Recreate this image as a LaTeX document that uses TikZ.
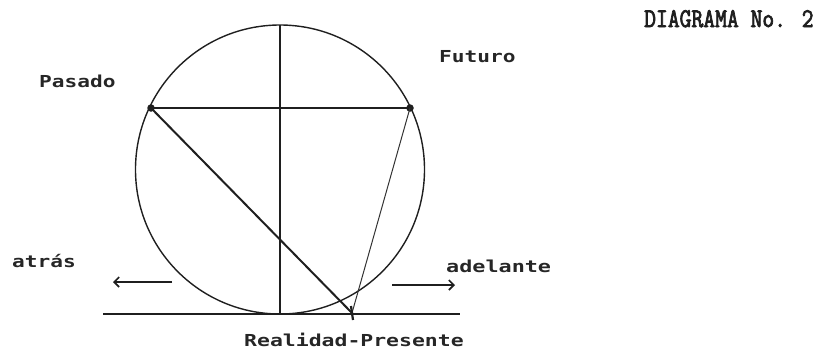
\documentclass[tikz,border=0pt]{standalone}
\usepackage{fontspec}
\newfontfamily\dotfont{DejaVu Sans Mono}
\newfontfamily\typefont[BoldFont={Latin Modern Mono}, BoldFeatures={FakeBold=3}]{Latin Modern Mono}
\usetikzlibrary{arrows.meta}
\begin{document}
\begin{tikzpicture}[x=1pt,y=-1pt,
  ink/.style={line width=1.7pt, draw=black!88},
  thin ink/.style={line width=1.0pt, draw=black!80},
  lbl/.style={inner sep=0pt, anchor=base west, font=\dotfont\bfseries\fontsize{16.5}{17}\selectfont, text=black!85},
  title/.style={inner sep=0pt, anchor=base west, font=\typefont\bfseries\fontsize{27}{27}\selectfont, text=black!88},
  pt/.style={circle, fill=black!88, inner sep=0pt, minimum size=7.5pt},
  arr/.style={ink, line width=1.4pt, -{Straight Barb[length=5pt,width=10pt,line width=1.6pt]}}]
\useasboundingbox (0,0) rectangle (823,349);
% circle
\coordinate (O) at (280,169.5);
\draw[ink, line width=1.4pt] (O) circle[radius=144.5];
% points
\node[pt] (P) at (151,108) {};
\node[pt] (F) at (410,108) {};
\coordinate (T) at (280,25);
\coordinate (B) at (280,314);
\coordinate (L0) at (103,314);
\coordinate (L1) at (460,314);
\coordinate (V) at (352,313);
\coordinate (V1) at (351,306);
\coordinate (V2) at (353,320);
\draw[ink] (T) -- (B);
\draw[ink] (P.center) -- (F.center);
\draw[ink] (L0) -- (L1);
\draw[ink, line width=2pt] (P.center) -- (V);
\draw[thin ink] (F.center) -- (V);
\draw[ink, line width=2.2pt] (V1) -- (V2);
% arrows
\coordinate (A0) at (172,282);
\coordinate (A1) at (113,282);
\coordinate (D0) at (392,285);
\coordinate (D1) at (455,285);
\draw[arr] (A0) -- (A1);
\draw[arr] (D0) -- (D1);
% labels
\node[lbl] (pasado) at (39,87) {\scalebox{1.28}[1]{Pasado}};
\node[lbl] (futuro) at (439,62) {\scalebox{1.28}[1]{Futuro}};
\node[lbl] (atras) at (12,267) {\scalebox{1.28}[1]{atrás}};
\node[lbl] (adelante) at (446,272) {\scalebox{1.32}[1]{adelante}};
\node[lbl] (real) at (244,346) {\scalebox{1.3}[1]{Realidad-Presente}};
\node[title] (diag) at (644,27) {\scalebox{0.85}[1]{DIAGRAMA No. 2}};
\end{tikzpicture}
\end{document}
